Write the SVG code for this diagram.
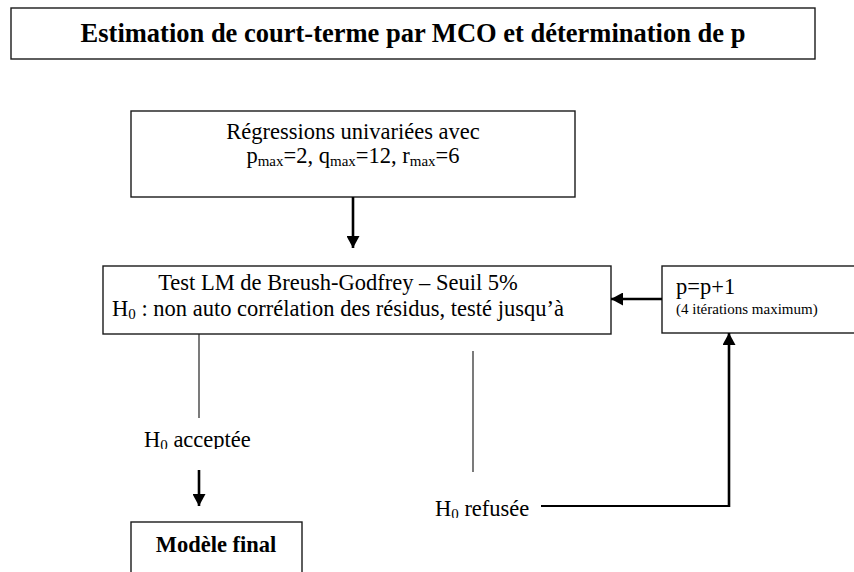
<svg xmlns="http://www.w3.org/2000/svg" width="854" height="572" viewBox="0 0 854 572">
<defs>
<style>
.box{fill:#fff;stroke:#1a1a1a;stroke-width:1.4}
.t{font-family:"Liberation Serif","Times New Roman",serif;font-size:22.5px;fill:#000}
.ttl{font-size:26.5px;font-weight:bold}
.b{font-weight:bold}
.sm{font-size:15px}
.sub{font-size:15px}
.thin{stroke:#222;stroke-width:1.2;fill:none}
.thick{stroke:#000;stroke-width:2.6;fill:none}
.mid{stroke:#000;stroke-width:1.8;fill:none}
</style>
<marker id="ah" markerWidth="13" markerHeight="13" refX="12" refY="6.5" orient="auto" markerUnits="userSpaceOnUse">
<path d="M0,0 L12,6.5 L0,13 z" fill="#000"/>
</marker>
<clipPath id="clipA"><rect x="130" y="420" width="160" height="29"/></clipPath>
<clipPath id="clipR"><rect x="420" y="480" width="120" height="38"/></clipPath>
</defs>
<rect width="854" height="572" fill="#fff"/>

<g id="title">
<rect class="box" x="11" y="8" width="804" height="51"/>
<text class="t ttl" x="413" y="42" text-anchor="middle">Estimation de court-terme par MCO et détermination de p</text>
</g>

<g id="regressions">
<rect class="box" x="131" y="111" width="444" height="86"/>
<text class="t" x="353" y="139" text-anchor="middle">Régressions univariées avec</text>
<text class="t" x="353" y="163" text-anchor="middle">p<tspan class="sub" dy="3">max</tspan><tspan dy="-3">=2, q</tspan><tspan class="sub" dy="3">max</tspan><tspan dy="-3">=12, r</tspan><tspan class="sub" dy="3">max</tspan><tspan dy="-3">=6</tspan></text>
</g>

<g id="test">
<rect class="box" x="103" y="266" width="508" height="68"/>
<text class="t" x="338" y="290" text-anchor="middle">Test LM de Breush-Godfrey – Seuil 5%</text>
<text class="t" x="338" y="316" text-anchor="middle">H<tspan class="sub" dy="3">0</tspan><tspan dy="-3"> : non auto corrélation des résidus, testé jusqu’à</tspan></text>
</g>

<g id="increment">
<rect class="box" x="662" y="266" width="200" height="67"/>
<text class="t" x="676" y="294">p=p+1</text>
<text class="t sm" x="676" y="314">(4 itérations maximum)</text>
</g>

<g id="accepted-label">
<text class="t" x="144" y="447" clip-path="url(#clipA)">H<tspan class="sub" dy="3">0</tspan><tspan dy="-3"> acceptée</tspan></text>
</g>

<g id="refused-label">
<text class="t" x="435" y="516" clip-path="url(#clipR)">H<tspan class="sub" dy="3">0</tspan><tspan dy="-3"> refusée</tspan></text>
</g>

<g id="final">
<rect class="box" x="131" y="522" width="171" height="60"/>
<text class="t b" x="216" y="552" text-anchor="middle">Modèle final</text>
</g>

<g id="connectors">
<line class="thick" x1="353" y1="197" x2="353" y2="248" marker-end="url(#ah)"/>
<line class="thick" x1="662" y1="299" x2="611" y2="299" marker-end="url(#ah)"/>
<line class="thin" x1="199" y1="334" x2="199" y2="418"/>
<line class="thick" x1="199" y1="470" x2="199" y2="506" marker-end="url(#ah)"/>
<line class="thin" x1="473" y1="351" x2="473" y2="472"/>
<polyline class="mid" points="541,506 729,506"/>
<line class="thick" x1="729" y1="507" x2="729" y2="333" marker-end="url(#ah)"/>
</g>
</svg>
